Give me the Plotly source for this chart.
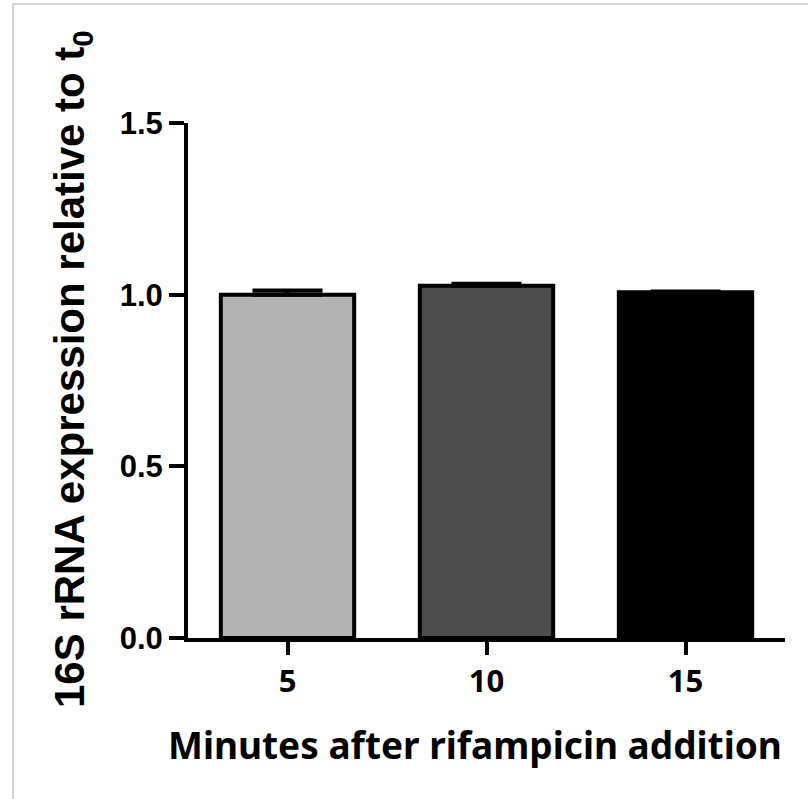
import plotly.graph_objects as go

categories = ["5", "10", "15"]
values = [1.000, 1.026, 1.007]
errors = [0.012, 0.006, 0.002]
bar_colors = ["#b3b3b3", "#4d4d4d", "#000000"]
y_ticks = [0.0, 0.5, 1.0, 1.5]
y_tick_labels = ["0.0", "0.5", "1.0", "1.5"]

W, H = 808, 799
L, R, T, B = 188, 23, 123, 161
pw, ph = W - L - R, H - T - B

fig = go.Figure()
fig.add_trace(go.Bar(
    x=categories, y=values, width=0.67,
    marker=dict(color=bar_colors, line=dict(color="black", width=4)),
    error_y=dict(type="data", array=errors, symmetric=False, arrayminus=[0, 0, 0],
                 color="black", thickness=4, width=35),
    showlegend=False,
))

def px_x(x):
    return (x - L) / pw

def px_y(y):
    return (H - B - y) / ph

fig.update_layout(
    width=W, height=H,
    margin=dict(l=L, r=R, t=T, b=B),
    paper_bgcolor="white", plot_bgcolor="white",
    xaxis=dict(type="category", range=[-0.5, 2.5], showline=True, linecolor="black",
               linewidth=4, ticks="outside", ticklen=13, tickwidth=4, tickcolor="black",
               showgrid=False, zeroline=False,
               tickfont=dict(family="Noto Sans", size=31, color="black", weight="bold")),
    yaxis=dict(range=[0, 1.5], showline=True, linecolor="black", linewidth=4,
               ticks="outside", ticklen=15, tickwidth=4, tickcolor="black",
               tickvals=y_ticks, ticktext=y_tick_labels,
               showgrid=False, zeroline=False, ticklabelstandoff=0,
               tickfont=dict(family="Liberation Sans", size=31, color="black", weight="bold")),
    shapes=[dict(type="rect", xref="paper", yref="paper",
                 x0=px_x(13), x1=px_x(W + 20), y0=px_y(H + 20), y1=px_y(4),
                 line=dict(color="#c8c8c8", width=1.5), layer="below")],
    annotations=[
        dict(text="Minutes after rifampicin addition", xref="paper", yref="paper",
             x=px_x(475), y=px_y(744), showarrow=False, xanchor="center", yanchor="middle",
             font=dict(family="Noto Sans", size=37, color="black", weight="bold")),
        dict(text="16S rRNA expression relative to t<sub>0</sub>", xref="paper", yref="paper",
             x=px_x(72), y=px_y(369), showarrow=False, textangle=-90,
             xanchor="center", yanchor="middle",
             font=dict(family="Liberation Sans", size=42, color="black", weight="bold")),
    ],
)

fig.write_html("out.html", config={"displayModeBar": False},
               post_script="document.body.style.margin='0';")
